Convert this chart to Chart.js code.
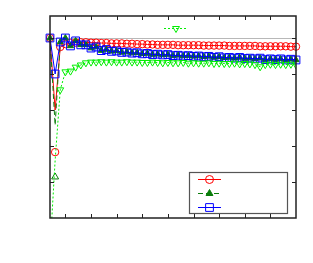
<!DOCTYPE html>
<html>
<head>
<meta charset="utf-8">
<script src="https://cdn.jsdelivr.net/npm/chart.js@4.4.1/dist/chart.umd.min.js"></script>
<style>
  html, body { margin: 0; padding: 0; background: #fff; }
  #wrap { width: 313px; height: 263px; }
</style>
</head>
<body>
<div id="wrap"><canvas id="myChart" width="313" height="263"></canvas></div>
<script>
// x positions (iterations)
const xs = [2, 3, 4, 5, 6, 7, 8, 9, 10, 11, 12, 13, 14, 15, 16, 17, 18, 19, 20, 21, 22, 23, 24, 25, 26,
            27, 28, 29, 30, 31, 32, 33, 34, 35, 36, 37, 38, 39, 40, 41, 42, 43, 44, 45, 46, 47, 48, 49, 50];

const redVals = [1.0, 0.80, 0.975, 0.983, 0.986, 0.987, 0.988, 0.988, 0.987, 0.987, 0.986, 0.986, 0.985, 0.985, 0.985,
                 0.984, 0.984, 0.983, 0.983, 0.982, 0.982, 0.981, 0.981, 0.981, 0.981, 0.980, 0.980, 0.980, 0.980,
                 0.980, 0.979, 0.979, 0.979, 0.979, 0.979, 0.978, 0.978, 0.978, 0.978,
                 0.978, 0.978, 0.977, 0.977, 0.977, 0.977, 0.977, 0.977, 0.976, 0.976];

const darkGreenVals = [1.0, 0.758, 0.989, 1.0, 0.978, 0.992, 0.981, 0.981, 0.972, 0.975, 0.965, 0.968, 0.963, 0.964,
                       0.960, 0.961, 0.958, 0.959, 0.956, 0.957, 0.954, 0.955, 0.953, 0.954, 0.951, 0.952, 0.950, 0.951,
                       0.949, 0.950, 0.948, 0.949, 0.946, 0.948, 0.945, 0.946, 0.944, 0.946, 0.943,
                       0.944, 0.942, 0.944, 0.940, 0.942, 0.940, 0.942, 0.939, 0.941, 0.939];

const blueVals = [1.0, 0.90, 0.989, 1.0, 0.978, 0.992, 0.981, 0.981, 0.972, 0.975, 0.965, 0.968, 0.963, 0.964,
                  0.960, 0.961, 0.958, 0.959, 0.956, 0.957, 0.954, 0.955, 0.953, 0.954, 0.951, 0.952, 0.950, 0.951,
                  0.949, 0.950, 0.948, 0.949, 0.946, 0.948, 0.945, 0.946, 0.944, 0.946, 0.943,
                  0.944, 0.942, 0.944, 0.940, 0.942, 0.940, 0.942, 0.939, 0.941, 0.939];

const lightGreenVals = [0.41, 0.66, 0.856, 0.906, 0.908, 0.919, 0.925, 0.931, 0.933, 0.933, 0.934, 0.933, 0.934,
                        0.933, 0.933, 0.934, 0.933, 0.933, 0.932, 0.932, 0.933, 0.932, 0.931, 0.932, 0.931, 0.931,
                        0.932, 0.930, 0.931, 0.930, 0.930, 0.931, 0.929, 0.930, 0.929, 0.929, 0.930, 0.928, 0.929,
                        0.928, 0.926, 0.920, 0.926, 0.927, 0.926, 0.927, 0.926, 0.927, 0.925];

// lone markers at x = 3 that sit away from their lines
const redDip = [{ x: 3, y: 0.683 }];
const darkGreenDip = [{ x: 3, y: 0.614 }];

const xTicks = [5, 10, 15, 20, 25, 30, 35, 40, 45];
const yTicks = [0.6, 0.7, 0.8, 0.9, 1.0];

const RED = "#ff0000", DKGREEN = "#0a7d0a", BLUE = "#0000ff", LTGREEN = "#00ee00";

function pts(vals) {
    return xs.map((x, i) => ({ x: x, y: vals[i] }));
}
function hideAt(idx, r) {
    return xs.map((x, i) => (idx.includes(i) ? 0 : r));
}

function marker(ctx, style, x, y, r, stroke, fill) {
    ctx.save();
    ctx.setLineDash([]);
    ctx.lineWidth = 1;
    ctx.strokeStyle = stroke;
    ctx.beginPath();
    if (style === "circle") {
        ctx.arc(x, y, r, 0, Math.PI * 2);
    } else if (style === "rect") {
        const s = r / Math.SQRT2;
        ctx.rect(x - s, y - s, 2 * s, 2 * s);
    } else if (style === "triangle" || style === "triangleDown") {
        const d = style === "triangle" ? 1 : -1;
        ctx.moveTo(x, y - d * r);
        ctx.lineTo(x - r * 0.866, y + d * r * 0.5);
        ctx.lineTo(x + r * 0.866, y + d * r * 0.5);
        ctx.closePath();
    }
    if (fill) { ctx.fillStyle = fill; ctx.fill(); }
    ctx.stroke();
    ctx.restore();
}

const framePlugin = {
    id: "frame",
    beforeDatasetsDraw(chart) {
        const { ctx, chartArea: a, scales } = chart;
        const y1 = scales.y.getPixelForValue(1.0);
        ctx.save();
        ctx.strokeStyle = "#b8b8b8";
        ctx.lineWidth = 1;
        ctx.beginPath();
        ctx.moveTo(a.left, Math.round(y1) + 0.5);
        ctx.lineTo(a.right, Math.round(y1) + 0.5);
        ctx.stroke();
        ctx.restore();
    },
    afterDraw(chart) {
        const { ctx, chartArea: a, scales } = chart;
        ctx.save();
        ctx.strokeStyle = "#222";
        ctx.lineWidth = 1.5;
        ctx.strokeRect(a.left, a.top, a.right - a.left, a.bottom - a.top);
        ctx.lineWidth = 1;
        ctx.beginPath();
        xTicks.forEach(v => {
            const px = Math.round(scales.x.getPixelForValue(v)) + 0.5;
            ctx.moveTo(px, a.bottom); ctx.lineTo(px, a.bottom - 4);
            ctx.moveTo(px, a.top); ctx.lineTo(px, a.top + 4);
        });
        yTicks.forEach(v => {
            const py = Math.round(scales.y.getPixelForValue(v)) + 0.5;
            ctx.moveTo(a.left, py); ctx.lineTo(a.left + 4, py);
            ctx.moveTo(a.right, py); ctx.lineTo(a.right - 4, py);
        });
        ctx.stroke();

        // legend box
        ctx.fillStyle = "#fff";
        ctx.fillRect(189.5, 172.5, 98, 41);
        ctx.strokeStyle = "#555";
        ctx.lineWidth = 1.2;
        ctx.strokeRect(189.5, 172.5, 98, 41);
        const entries = [
            { c: RED, dash: [], m: "circle", r: 4, fill: null, y: 179 },
            { c: DKGREEN, dash: [5, 3], m: "triangle", r: 4, fill: DKGREEN, y: 193 },
            { c: BLUE, dash: [], m: "rect", r: 5.5, fill: null, y: 207 }
        ];
        entries.forEach(e => {
            ctx.strokeStyle = e.c;
            ctx.lineWidth = 1;
            ctx.setLineDash(e.dash);
            ctx.beginPath();
            ctx.moveTo(198, e.y + 0.5); ctx.lineTo(221, e.y + 0.5);
            ctx.stroke();
            marker(ctx, e.m, 209.5, e.y + 0.5, e.r, e.c, e.fill);
        });
        // stray fourth entry
        ctx.strokeStyle = LTGREEN;
        ctx.setLineDash([2, 2]);
        ctx.beginPath();
        ctx.moveTo(164, 28.5); ctx.lineTo(188, 28.5);
        ctx.stroke();
        marker(ctx, "triangleDown", 176, 28.5, 4, LTGREEN, null);
        ctx.restore();
    }
};

new Chart("myChart", {
    type: "line",
    data: {
        datasets: [
            {
                data: pts(lightGreenVals),
                borderColor: LTGREEN,
                borderWidth: 1,
                borderDash: [2, 2],
                pointStyle: "triangle",
                rotation: 180,
                pointRadius: hideAt([0, 1], 4),
                pointBorderColor: LTGREEN,
                pointBackgroundColor: "rgba(0,0,0,0)",
                pointBorderWidth: 1,
                order: 1,
            },
            {
                data: pts(blueVals),
                borderColor: BLUE,
                borderWidth: 1,
                pointStyle: "rect",
                pointRadius: 5.5,
                pointBorderColor: BLUE,
                pointBackgroundColor: "rgba(0,0,0,0)",
                pointBorderWidth: 1,
                clip: false,
                order: 2,
            },
            {
                data: pts(darkGreenVals),
                borderColor: DKGREEN,
                borderWidth: 1,
                borderDash: [5, 3],
                pointStyle: "triangle",
                pointRadius: hideAt([1], 3.5),
                pointBorderColor: DKGREEN,
                pointBackgroundColor: DKGREEN,
                pointBorderWidth: 1,
                clip: false,
                order: 3,
            },
            {
                data: pts(redVals),
                borderColor: RED,
                borderWidth: 1,
                pointStyle: "circle",
                pointRadius: hideAt([1], 3.7),
                pointBorderColor: RED,
                pointBackgroundColor: "rgba(0,0,0,0)",
                pointBorderWidth: 1,
                clip: false,
                order: 4,
            },
            {
                data: redDip,
                showLine: false,
                pointStyle: "circle",
                pointRadius: 3.7,
                pointBorderColor: RED,
                pointBackgroundColor: "rgba(0,0,0,0)",
                pointBorderWidth: 1,
                order: 5,
            },
            {
                data: darkGreenDip,
                showLine: false,
                pointStyle: "triangle",
                pointRadius: 4,
                pointBorderColor: DKGREEN,
                pointBackgroundColor: "rgba(0,0,0,0)",
                pointBorderWidth: 1,
                order: 5,
            },
        ],
    },
    options: {
        responsive: false,
        animation: false,
        events: [],
        layout: { padding: { left: 50, top: 16, right: 17, bottom: 45 } },
        elements: { line: { tension: 0 } },
        plugins: { legend: { display: false }, tooltip: { enabled: false } },
        scales: {
            x: { type: "linear", min: 2, max: 50, display: false },
            y: { type: "linear", min: 0.5, max: 1.0611, display: false },
        },
    },
    plugins: [framePlugin],
});
</script>
</body>
</html>
